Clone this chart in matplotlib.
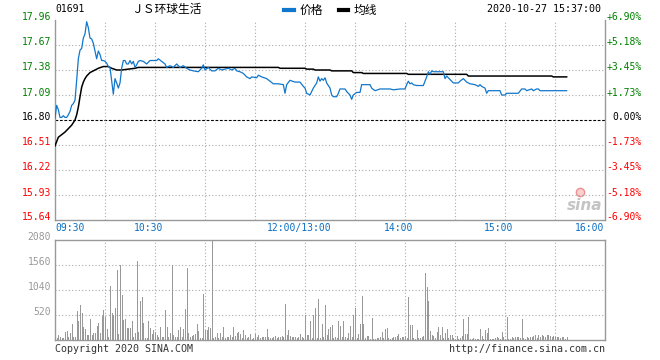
import numpy as np
import matplotlib
matplotlib.use('Agg')
import matplotlib.pyplot as plt
from matplotlib import transforms
from matplotlib.lines import Line2D

# ---------------- data ----------------
stock_code = '01691'
stock_name = 'ＪＳ环球生活'
timestamp = '2020-10-27 15:37:00'
prev_close = 16.80

price_minutes = [0, 1, 2, 3, 4, 5, 6, 7, 8, 9, 10, 11, 12, 13, 14, 15, 16, 17, 18, 19,
                 20, 21, 22, 23, 24, 25, 26, 27, 28, 29, 30, 31, 32, 33, 34, 35, 36, 37, 38, 39,
                 40, 41, 42, 43, 44, 45, 46, 47, 48, 49, 50, 51, 53, 55, 57, 59, 61, 62, 64, 66,
                 67, 69, 71, 73, 75, 77, 79, 81, 83, 86, 88, 89, 90, 92, 94, 96, 98, 100, 102, 104,
                 106, 108, 109, 111, 113, 115, 117, 118, 121, 122, 124, 127, 129, 131, 134, 137, 138, 139, 141, 144,
                 147, 149, 150, 151, 153, 155, 157, 158, 159, 160, 161, 162, 163, 165, 166, 167, 169, 170, 171, 174,
                 175, 177, 178, 179, 181, 183, 184, 187, 189, 190, 192, 195, 201, 203, 207, 210, 211, 212, 213, 214,
                 215, 217, 221, 222, 223, 224, 225, 226, 227, 230, 233, 234, 235, 237, 239, 242, 243, 245, 247, 249,
                 252, 254, 255, 256, 258, 259, 260, 267, 268, 270, 271, 278, 280, 282, 283, 286, 287, 289, 290, 291,
                 307]
price_values = [16.82, 16.97, 16.92, 16.83, 16.83, 16.85, 16.83, 16.83, 16.86, 16.90, 16.97, 16.99, 17.03, 17.26, 17.51, 17.61, 17.63, 17.75, 17.80, 17.94,
                17.87, 17.75, 17.74, 17.69, 17.60, 17.51, 17.60, 17.56, 17.49, 17.49, 17.48, 17.46, 17.42, 17.41, 17.25, 17.10, 17.28, 17.23, 17.17, 17.23,
                17.40, 17.49, 17.49, 17.45, 17.45, 17.49, 17.45, 17.48, 17.41, 17.44, 17.48, 17.49, 17.48, 17.45, 17.49, 17.49, 17.49, 17.51, 17.48, 17.45,
                17.41, 17.43, 17.41, 17.45, 17.41, 17.43, 17.40, 17.38, 17.37, 17.36, 17.40, 17.44, 17.38, 17.41, 17.37, 17.37, 17.40, 17.38, 17.39, 17.40,
                17.38, 17.40, 17.37, 17.36, 17.34, 17.30, 17.28, 17.30, 17.29, 17.32, 17.30, 17.28, 17.25, 17.22, 17.22, 17.21, 17.11, 17.21, 17.26, 17.24,
                17.24, 17.19, 17.17, 17.11, 17.09, 17.17, 17.23, 17.30, 17.25, 17.28, 17.26, 17.29, 17.23, 17.17, 17.09, 17.07, 17.07, 17.11, 17.16, 17.16,
                17.13, 17.09, 17.04, 17.09, 17.12, 17.12, 17.21, 17.21, 17.21, 17.17, 17.14, 17.16, 17.16, 17.15, 17.16, 17.16, 17.21, 17.25, 17.22, 17.23,
                17.21, 17.20, 17.20, 17.25, 17.30, 17.36, 17.33, 17.37, 17.36, 17.36, 17.36, 17.28, 17.31, 17.27, 17.23, 17.23, 17.25, 17.28, 17.24, 17.22,
                17.21, 17.19, 17.21, 17.19, 17.17, 17.11, 17.14, 17.14, 17.09, 17.09, 17.11, 17.11, 17.16, 17.16, 17.14, 17.16, 17.14, 17.16, 17.16, 17.14,
                17.14]

avg_minutes = [0, 1, 2, 4, 6, 8, 10, 11, 12, 13, 14, 15, 16, 17, 18, 19, 21, 23, 26, 29,
               32, 34, 37, 40, 48, 50, 134, 135, 150, 151, 155, 156, 165, 166, 178, 179, 184, 185, 211, 212,
               247, 248, 298, 299, 307]
avg_values = [16.50, 16.55, 16.60, 16.63, 16.66, 16.70, 16.74, 16.77, 16.80, 16.86, 16.95, 17.07, 17.18, 17.24, 17.28, 17.31, 17.35, 17.37, 17.40, 17.42,
              17.42, 17.40, 17.38, 17.38, 17.40, 17.41, 17.41, 17.40, 17.40, 17.39, 17.39, 17.38, 17.38, 17.37, 17.37, 17.35, 17.35, 17.34, 17.34, 17.33,
              17.33, 17.31, 17.31, 17.30, 17.30]

volume_am = [40, 35, 104, 55, 35, 35, 173, 194, 55, 139,
             333, 55, 69, 610, 402, 728, 555, 277, 229, 104,
             104, 430, 104, 139, 139, 291, 360, 139, 499, 624,
             471, 222, 55, 1116, 555, 520, 659, 1456, 125, 1553,
             936, 416, 430, 243, 243, 243, 402, 69, 139, 1636,
             173, 818, 887, 360, 35, 35, 402, 243, 125, 208,
             173, 104, 55, 263, 55, 55, 624, 263, 69, 139,
             1567, 104, 55, 55, 208, 277, 55, 222, 638, 1498,
             139, 69, 83, 104, 125, 333, 194, 35, 35, 957,
             208, 208, 277, 243, 2080, 35, 55, 139, 35, 139,
             55, 263, 35, 55, 69, 104, 55, 277, 83, 139,
             173, 125, 35, 208, 104, 35, 55, 125, 20, 35,
             125, 55, 104, 35, 55, 55, 69, 222, 55, 35,
             35, 55, 83, 35, 55, 69, 83, 55, 749, 104,
             208, 83, 69, 55, 55, 35, 55, 125, 55, 35]
volume_pm = [527, 104, 97, 402, 42, 527, 666, 42, 860, 42,
             333, 55, 735, 104, 236, 263, 312, 42, 55, 42,
             402, 291, 55, 402, 55, 42, 153, 291, 55, 520,
             659, 35, 125, 333, 915, 333, 35, 83, 83, 28,
             458, 20, 20, 35, 42, 55, 173, 35, 222, 243,
             35, 20, 42, 69, 55, 83, 125, 35, 55, 69,
             83, 35, 901, 312, 312, 35, 28, 208, 35, 35,
             69, 83, 1393, 1095, 818, 194, 97, 76, 42, 166,
             277, 111, 263, 42, 146, 236, 42, 111, 97, 42,
             28, 76, 28, 42, 76, 444, 125, 125, 471, 28,
             28, 42, 28, 28, 28, 236, 76, 28, 208, 146,
             250, 28, 28, 28, 42, 55, 42, 20, 166, 55,
             28, 471, 28, 28, 55, 42, 55, 55, 55, 42,
             444, 42, 28, 55, 42, 55, 55, 76, 111, 42,
             97, 69, 111, 83, 55, 111, 97, 83, 69, 83,
             69, 55, 55, 42, 55, 55, 28, 69]

price_ticks = [17.96, 17.67, 17.38, 17.09, 16.80, 16.51, 16.22, 15.93, 15.64]
pct_labels = ['+6.90%', '+5.18%', '+3.45%', '+1.73%', '0.00%', '-1.73%', '-3.45%', '-5.18%', '-6.90%']
vol_ticks = [2080, 1560, 1040, 520]
time_ticks = [0, 60, 150, 210, 270, 330]
time_labels = ['09:30', '10:30', '12:00/13:00', '14:00', '15:00', '16:00']
grid_minutes = [30, 60, 90, 120, 150, 180, 210, 240, 270, 300]

# ---------------- style ----------------
W, H = 660, 360
BLUE = '#1177CC'
GREEN = '#008000'
RED = '#FF0000'
GREY = '#999999'
GRID = '#AAAAAA'
TBLUE = '#0A6FC2'
MONO = 'DejaVu Sans Mono'
CJK = ['Noto Sans CJK SC', 'DejaVu Sans']

fig = plt.figure(figsize=(W / 100, H / 100), dpi=100)
ax = fig.add_axes([55 / W, 1 - 220 / H, 550 / W, 200 / H])
axv = fig.add_axes([55 / W, 1 - 340 / H, 550 / W, 100 / H])

for a in (ax, axv):
    a.set_xlim(0, 330)
    a.set_xticks([])
    a.set_yticks([])
    for s in a.spines.values():
        s.set_color(GREY)
        s.set_linewidth(1.0)
ax.spines['top'].set_visible(False)
ax.set_ylim(price_ticks[-1], price_ticks[0])
axv.set_ylim(0, vol_ticks[0])

dot = (0, (1, 2))
for p in price_ticks[1:-1]:
    if abs(p - prev_close) < 1e-9:
        ax.axhline(p, color='black', lw=0.8, ls=(0, (2.5, 1.5)), zorder=1)
    else:
        ax.axhline(p, color=GRID, lw=0.8, ls=dot, zorder=1)
for m in grid_minutes:
    ax.axvline(m, color=GRID, lw=0.8, ls=dot, zorder=1)
    axv.axvline(m, color=GRID, lw=0.8, ls=dot, zorder=1)
for v in vol_ticks[1:]:
    axv.axhline(v, color=GRID, lw=0.8, ls=dot, zorder=1)

# lines
ax.plot(avg_minutes, avg_values, color='black', lw=1.1, zorder=3)
ax.plot(price_minutes, price_values, color=BLUE, lw=0.9, zorder=4)

# volume bars (1 px wide)
volume = volume_am + volume_pm
vx = np.arange(len(volume))
axv.vlines(vx, 0, volume, color=GREY, lw=0.72, zorder=2, antialiased=False)

# left price labels / right percent labels
up2 = transforms.ScaledTranslation(0, 0.025, fig.dpi_scale_trans)
tl = transforms.blended_transform_factory(fig.transFigure, ax.transData) + up2
for p, pl in zip(price_ticks, pct_labels):
    if p > prev_close + 1e-9:
        c = GREEN
    elif p < prev_close - 1e-9:
        c = RED
    else:
        c = 'black'
    ax.text(51 / W, p, f'{p:.2f}', transform=tl, ha='right', va='center',
            fontsize=7, family=MONO, color=c)
    ax.text(642 / W, p, pl, transform=tl, ha='right', va='center',
            fontsize=7, family=MONO, color=c)

# volume labels
up3 = transforms.ScaledTranslation(0, 0.03, fig.dpi_scale_trans)
tv = transforms.blended_transform_factory(fig.transFigure, axv.transData) + up3
for v in vol_ticks:
    axv.text(51 / W, v, str(v), transform=tv, ha='right', va='center',
             fontsize=7, family=MONO, color=GREY)

# time labels
tt = transforms.blended_transform_factory(ax.transData, fig.transFigure)
left6 = transforms.ScaledTranslation(-0.06, 0, fig.dpi_scale_trans)
for i, (m, lab) in enumerate(zip(time_ticks, time_labels)):
    if i == 0:
        ax.text(m, 1 - 228 / H, lab, transform=tt, ha='left', va='center',
                fontsize=7, family=MONO, color=TBLUE)
    elif i == len(time_ticks) - 1:
        ax.text(m, 1 - 228 / H, lab, transform=tt + transforms.ScaledTranslation(-0.01, 0, fig.dpi_scale_trans),
                ha='right', va='center', fontsize=7, family=MONO, color=TBLUE)
    else:
        ax.text(m, 1 - 228 / H, lab, transform=tt + left6, ha='center', va='center',
                fontsize=7, family=MONO, color=TBLUE)

# header
fig.text(55 / W, 1 - 9.5 / H, stock_code, ha='left', va='center', fontsize=7, family=MONO, color='black')
fig.text(166 / W, 1 - 9.5 / H, stock_name, ha='center', va='center', fontsize=8.5, family=CJK,
         color='black', weight='medium')
fig.text(601 / W, 1 - 9.5 / H, timestamp, ha='right', va='center', fontsize=7.2, family=MONO, color='black')
h1 = Line2D([], [], color=BLUE, lw=3)
h2 = Line2D([], [], color='black', lw=3)
fig.legend([h1, h2], ['价格', '均线'], loc='center', bbox_to_anchor=(331 / W, 1 - 10.5 / H), ncol=2,
           frameon=False, handlelength=0.8, handletextpad=0.5, columnspacing=1.3,
           prop={'family': CJK, 'size': 8.5}, borderpad=0, borderaxespad=0)

# footer
fig.text(55 / W, 1 - 349 / H, 'Copyright 2020 SINA.COM', ha='left', va='center', fontsize=7.2,
         family=MONO, color='#333333')
fig.text(605 / W, 1 - 349 / H, 'http://finance.sina.com.cn', ha='right', va='center', fontsize=7.2,
         family=MONO, color='#333333')

# sina watermark
ax.text(0.963, 0.075, 'sina', transform=ax.transAxes, ha='center', va='center', fontsize=11,
        style='italic', weight='bold', color='#C4C4C4', zorder=0)
ax.plot([0.955], [0.14], 'o', transform=ax.transAxes, ms=6, mfc='#F8D0D0', mec='#EE9090', mew=1.0, zorder=0)

fig.savefig('out.png', dpi=100)
